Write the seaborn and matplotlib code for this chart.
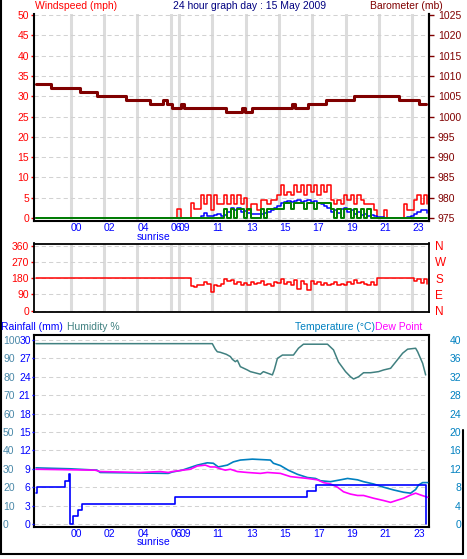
import numpy as np
import matplotlib
matplotlib.use('Agg')
import matplotlib.pyplot as plt
import matplotlib.transforms as mtransforms
from matplotlib.lines import Line2D
import seaborn as sns

sns.set_style('white')
plt.rcParams['font.family'] = ['Liberation Sans', 'DejaVu Sans']
plt.rcParams['font.size'] = 7.5

# ---------------- data ----------------
# x axis: graph hours (the 06 -> 09 data gap is compressed on the chart)
hour_ticks = [0, 2, 4, 6, 6.5, 8.5, 10.5, 12.5, 14.5, 16.5, 18.5, 20.5]
hour_labels = ['00', '02', '04', '06', '09', '11', '13', '15', '17', '19', '21', '23']
sunrise_pos = 4.95
x_range = (-2.2, 21.46)

wind_ticks = [0, 5, 10, 15, 20, 25, 30, 35, 40, 45, 50]
baro_ticks = [975, 980, 985, 990, 995, 1000, 1005, 1010, 1015, 1020, 1025]
dir_ticks = [0, 90, 180, 270, 360]
dir_labels = ['N', 'E', 'S', 'W', 'N']
hum_ticks = [0, 10, 20, 30, 40, 50, 60, 70, 80, 90, 100]
rain_ticks = [0, 3, 6, 9, 12, 15, 18, 21, 24, 27, 30]
temp_ticks = [0, 4, 8, 12, 16, 20, 24, 28, 32, 36, 40]

baro_t = [-2.08, -1.18, 0.56, 1.58, 3.32, 4.76, 5.54, 5.78, 6.08, 6.62, 6.80, 9.32,
          10.28, 10.46, 10.88, 13.28, 13.46, 14.24, 15.32, 17.0, 19.7, 20.9, 21.31]
baro_v = [1008, 1007, 1006, 1005, 1004, 1003, 1004, 1003, 1002, 1003, 1002, 1001,
          1002, 1001, 1002, 1003, 1002, 1003, 1004, 1005, 1004, 1003, 1003]

wind_first = -2.08
wind_start = 6.4
wind_step = 0.2
gust = [2.2, 0, 0, 0, 3.6, 2.2, 2.2, 5.6, 3.4, 5.6,
        2.0, 5.6, 3.4, 3.4, 5.6, 3.4, 5.6, 3.4, 5.6, 3.4,
        4.9, 2.0, 3.4, 3.4, 2.0, 4.4, 4.4, 3.4, 4.4, 4.4,
        5.6, 8.1, 5.6, 6.5, 5.6, 8.1, 6.5, 8.1, 5.6, 8.1,
        6.5, 8.1, 5.6, 8.1, 6.5, 8.1, 4.4, 3.4, 4.4, 3.4,
        5.6, 4.4, 5.6, 3.4, 5.6, 4.4, 3.4, 3.4, 3.4, 2.0,
        0, 0, 2.0, 0, 0, 0, 0, 0, 3.4, 2.0,
        2.0, 4.4, 5.6, 3.4, 5.6, 3.4]
avg = [0, 0, 0, 0, 0, 0, 0, 0.6, 1.2, 0.5,
       0.5, 0.8, 1.0, 0.5, 0.8, 1.5, 2.4, 2.0, 2.4, 1.5,
       1.8, 1.2, 1.0, 1.0, 1.0, 1.0, 1.2, 1.5, 2.0, 2.5,
       3.0, 3.8, 4.0, 4.2, 4.0, 4.2, 4.4, 4.0, 4.2, 4.4,
       4.0, 4.2, 3.8, 3.5, 3.0, 2.5, 1.5, 2.0, 1.2, 2.2,
       2.5, 1.5, 2.0, 1.0, 1.5, 0.8, 1.0, 0.5, 0.8, 0.5,
       0.3, 0.3, 0, 0, 0, 0, 0, 0, 0, 0.3,
       0.6, 1.0, 1.5, 2.0, 2.0, 1.2]
latest = [0, 0, 0, 0, 0, 0, 0, 0, 0, 0,
          0, 0, 0, 0, 2.1, 0, 2.1, 0, 2.1, 2.1,
          0, 2.1, 0, 0, 0, 2.1, 0, 2.1, 2.1, 2.1,
          2.1, 2.1, 3.6, 3.6, 2.1, 3.6, 3.6, 3.6, 2.1, 3.6,
          3.6, 2.1, 3.6, 3.6, 3.6, 3.6, 2.1, 0, 2.1, 0,
          2.1, 2.1, 0, 2.1, 0, 2.1, 0, 2.1, 0, 0,
          0, 0, 0, 0, 0, 0, 0, 0, 0, 0,
          0, 0, 0, 0, 0, 0]
wdir = [180, 180, 180, 180, 135, 130, 145, 140, 160, 150,
        105, 140, 135, 150, 175, 165, 170, 150, 160, 145,
        155, 140, 160, 150, 155, 165, 145, 150, 135, 160,
        155, 175, 150, 160, 145, 170, 120, 165, 150, 115,
        165, 150, 160, 140, 155, 145, 150, 160, 140, 150,
        145, 160, 150, 170, 155, 160, 150, 145, 160, 140,
        180, 180, 180, 180, 180, 180, 180, 180, 180, 180,
        180, 165, 175, 155, 175, 150]

hum_t = [-2.08, 8.48, 8.57, 8.66, 8.78, 8.96, 9.32, 9.56, 9.68, 9.86, 9.98, 10.16, 10.58,
         10.76, 11.36, 11.54, 11.78, 12.08, 12.20, 12.38, 12.68, 13.34, 13.64, 13.94, 15.38,
         15.74, 16.04, 16.46, 16.76, 16.94, 17.24, 17.54, 17.96, 18.44, 18.74, 19.16, 19.46,
         19.88, 20.18, 20.66, 20.78, 21.08, 21.26]
hum_v = [98, 98, 96.5, 95, 93.6, 93.3, 92.2, 91, 89.5, 88.2, 89, 85.5, 83.7,
         82.8, 81.4, 82.8, 82, 81, 84, 90, 91.8, 91.8, 95.5, 97.7, 97.7,
         94.6, 88, 82.8, 80, 78.8, 80, 82.2, 82.2, 82.8, 83.7, 84.6, 88,
         92.8, 95, 95.5, 93.6, 87.3, 81]

temp_t = [-2.08, -0.04, 1.58, 1.76, 5.84, 6.08, 6.68, 7.58, 8.18, 8.54, 8.84, 9.38, 9.74,
          10.16, 10.88, 11.96, 12.14, 12.56, 13.03, 13.58, 14.18, 14.66, 14.96, 15.56,
          16.16, 16.58, 17.18, 17.54, 18.14, 18.74, 19.34, 19.94, 20.36, 20.66, 20.84,
          21.08, 21.38]
temp_v = [12.2, 12.0, 11.7, 11.2, 11.0, 11.3, 11.7, 12.8, 13.3, 13.2, 12.4, 12.8, 13.5,
          13.9, 14.1, 13.9, 13.2, 12.7, 11.7, 10.8, 10.1, 9.9, 9.4, 9.2,
          9.6, 9.9, 9.6, 9.2, 8.7, 8.0, 7.4, 6.9, 6.7, 7.5, 8.5,
          9.0, 9.0]

dew_t = [-2.08, 1.46, 1.76, 4.16, 5.36, 5.84, 6.08, 7.16, 7.58, 8.06, 8.36, 8.66, 8.96,
         9.26, 9.56, 9.98, 10.58, 11.36, 11.78, 12.56, 13.16, 14.18, 14.78, 15.14, 15.56,
         15.98, 16.34, 16.76, 17.18, 17.54, 18.14, 18.74, 19.16, 19.58, 19.94, 20.36,
         20.66, 20.96, 21.38]
dew_v = [11.9, 11.7, 11.4, 11.2, 11.4, 11.2, 11.4, 11.9, 12.6, 12.8, 12.4, 12.4, 12.0,
         11.7, 11.9, 11.4, 11.2, 11.0, 11.2, 11.0, 10.3, 9.9, 9.6, 9.0, 8.7,
         8.0, 7.0, 6.5, 6.2, 6.2, 5.6, 5.1, 4.7, 5.2, 5.6, 6.3,
         6.7, 6.3, 5.8]

rain_t = [-2.08, -2.02, -0.34, -0.10, -0.04, 0.14, 0.44, 0.68, 6.26, 14.18, 14.72, 21.26, 21.31]
rain_v = [5.0, 6.0, 7.0, 8.2, 0.0, 1.3, 2.3, 3.3, 4.35, 5.4, 6.4, 0.0, 0.0]

# ---------------- colours ----------------
C_WIND = '#ff0000'
C_AVG = '#0000ff'
C_LATEST = '#008000'
C_BARO = '#800000'
C_TITLE = '#000080'
C_RAIN = '#0000ff'
C_HUM = '#408080'
C_HUMTICK = '#4a88a8'
C_TEMP = '#0080c0'
C_DEW = '#ff00ff'
C_VGRID = '#dcdcdc'
C_HGRID = '#d2d2d2'

W, H = 467, 559
fig = plt.figure(figsize=(W / 100, H / 100), dpi=100)
fig.patch.set_facecolor('white')

def px_box(left, top, right, bottom):
    return [left / W, (H - bottom) / H, (right - left) / W, (bottom - top) / H]

wind_t = [wind_first] + [wind_start + wind_step * i for i in range(len(gust))]

def hgrid(ax):
    ax.yaxis.grid(True, color=C_HGRID, linewidth=0.75, linestyle=(0, (4, 3)))

def vgrid(ax):
    ax.xaxis.grid(True, color=C_VGRID, linewidth=2.2, linestyle='-')

# ---------------- panel 1: wind speed + barometer ----------------
ax1 = fig.add_axes(px_box(34, 14, 428.5, 221))
ax1.set_axisbelow(True)
sns.lineplot(x=wind_t, y=[0] + gust, ax=ax1, color=C_WIND, linewidth=1.1,
             drawstyle='steps-post', errorbar=None)
sns.lineplot(x=wind_t, y=[0] + avg, ax=ax1, color=C_AVG, linewidth=1.1,
             drawstyle='steps-post', errorbar=None)
sns.lineplot(x=wind_t, y=[0] + latest, ax=ax1, color=C_LATEST, linewidth=1.4,
             drawstyle='steps-post', errorbar=None)
ax1.set_xlim(*x_range)
ax1.set_ylim(-0.74, 50.25)
ax1.set_yticks(wind_ticks)
ax1.set_xticks(hour_ticks)
ax1.set_xticklabels(hour_labels, ha='left')
ax1.tick_params(axis='x', length=0, pad=1.2, labelcolor='#0000ff', labelsize=7.5)
ax1.tick_params(axis='y', left=True, length=2.2, width=1, color=C_WIND, pad=1.4,
                labelcolor=C_WIND, labelsize=7.5)
vgrid(ax1)
hgrid(ax1)
ax1.set_xlabel('')
ax1.set_ylabel('')
for s in ['left', 'bottom', 'right']:
    ax1.spines[s].set_color('black')
    ax1.spines[s].set_linewidth(1.5)
ax1.spines['top'].set_visible(False)

ax1b = ax1.twinx()
sns.lineplot(x=baro_t, y=baro_v, ax=ax1b, color=C_BARO, linewidth=2.2,
             drawstyle='steps-post', errorbar=None)
ax1b.set_ylim(975 - 0.74, 975 + 50.25)
ax1b.set_yticks(baro_ticks)
ax1b.tick_params(axis='y', right=True, length=3.6, width=1, color=C_BARO, pad=3.2,
                 labelcolor=C_BARO, labelsize=7.5)
ax1b.set_ylabel('')
ax1b.spines['top'].set_visible(False)
ax1b.spines['right'].set_color('black')
ax1b.spines['right'].set_linewidth(1.5)
ax1b.spines['left'].set_visible(False)
ax1b.spines['bottom'].set_visible(False)

blend1 = mtransforms.blended_transform_factory(ax1.transData, ax1.transAxes)
ax1.text(sunrise_pos, -0.077, 'sunrise', transform=blend1, ha='center', va='center',
         color='#0000ff', fontsize=7.5)

# ---------------- panel 2: wind direction ----------------
ax2 = fig.add_axes(px_box(34, 243.5, 428.5, 312))
ax2.set_axisbelow(True)
sns.lineplot(x=wind_t, y=[180] + wdir, ax=ax2, color=C_WIND, linewidth=1.1,
             drawstyle='steps-post', errorbar=None)
ax2.set_xlim(*x_range)
ax2.set_ylim(-7.2, 372.1)
ax2.set_xticks(hour_ticks)
ax2.set_xticklabels([])
ax2.set_yticks(dir_ticks)
ax2.tick_params(axis='x', length=0)
ax2.tick_params(axis='y', left=True, length=2.2, width=1, color=C_WIND, pad=1.4,
                labelcolor=C_WIND, labelsize=7.5)
vgrid(ax2)
hgrid(ax2)
ax2.set_xlabel('')
ax2.set_ylabel('')
for s in ax2.spines.values():
    s.set_color('black')
    s.set_linewidth(1.3)
ax2b = ax2.twinx()
ax2b.set_ylim(-7.2, 372.1)
ax2b.set_yticks(dir_ticks)
ax2b.set_yticklabels(dir_labels)
ax2b.tick_params(axis='y', right=True, length=0, pad=5.0, labelcolor=C_WIND,
                 labelsize=8.5)
for s in ax2b.spines.values():
    s.set_visible(False)

# ---------------- panel 3: humidity / rain / temperature ----------------
ax3 = fig.add_axes(px_box(34, 335, 429, 527))
ax3.set_axisbelow(True)
sns.lineplot(x=hum_t, y=hum_v, ax=ax3, color=C_HUM, linewidth=1.1, errorbar=None)
ax3.set_xlim(*x_range)
ax3.set_ylim(-1.63, 102.7)
ax3.set_yticks(hum_ticks)
ax3.set_yticklabels([str(v) for v in hum_ticks], ha='left')
ax3.tick_params(axis='y', left=True, length=0, pad=22.3, labelcolor=C_HUMTICK,
                labelsize=7.5)
ax3.set_xticks(hour_ticks)
ax3.set_xticklabels(hour_labels, ha='left')
ax3.tick_params(axis='x', length=0, pad=1.2, labelcolor='#0000ff', labelsize=7.5)
hgrid(ax3)
ax3.xaxis.grid(False)
ax3.set_xlabel('')
ax3.set_ylabel('')
for s in ax3.spines.values():
    s.set_color('black')
    s.set_linewidth(1.5)

ax3r = ax3.twinx()
sns.lineplot(x=temp_t, y=temp_v, ax=ax3r, color=C_TEMP, linewidth=1.2, errorbar=None)
sns.lineplot(x=dew_t, y=dew_v, ax=ax3r, color=C_DEW, linewidth=1.2, errorbar=None)
ax3r.set_ylim(-1.63 * 0.4, 102.7 * 0.4)
ax3r.set_yticks(temp_ticks)
ax3r.set_yticklabels([str(v) for v in temp_ticks], ha='right')
ax3r.tick_params(axis='y', right=True, length=0, pad=23.0, labelcolor=C_TEMP,
                 labelsize=7.5)
ax3r.set_ylabel('')
for s in ax3r.spines.values():
    s.set_visible(False)

ax3c = ax3.twinx()
sns.lineplot(x=rain_t, y=rain_v, ax=ax3c, color=C_RAIN, linewidth=1.2,
             drawstyle='steps-post', errorbar=None)
ax3c.set_ylim(-1.63 * 0.3, 102.7 * 0.3)
ax3c.yaxis.tick_left()
ax3c.set_yticks(rain_ticks)
ax3c.tick_params(axis='y', left=True, right=False, length=1.2, width=1, color=C_RAIN,
                 pad=1.2, labelcolor=C_RAIN, labelsize=7.5)
ax3c.set_ylabel('')
for s in ax3c.spines.values():
    s.set_visible(False)

blend3 = mtransforms.blended_transform_factory(ax3.transData, ax3.transAxes)
ax3.text(sunrise_pos, -0.08, 'sunrise', transform=blend3, ha='center', va='center',
         color='#0000ff', fontsize=7.5)

# ---------------- header texts ----------------
def ftext(x, y, s, **kw):
    fig.text(x / W, 1 - y / H, s, va='center', fontsize=7.5, **kw)

ftext(35, 6, 'Windspeed (mph)', ha='left', color=C_WIND)
ftext(250, 6, '24 hour graph day : 15 May 2009', ha='center', color=C_TITLE)
ftext(443, 6, 'Barometer (mb)', ha='right', color=C_BARO)
ftext(1, 327.5, 'Rainfall (mm)', ha='left', color=C_RAIN)
ftext(67, 327.5, 'Humidity %', ha='left', color=C_HUM)
ftext(375, 327.5, 'Temperature (\u00b0C)', ha='right', color=C_TEMP)
ftext(375, 327.5, 'Dew Point', ha='left', color=C_DEW)

# outer frame
for xs, ys in [((0.8, 0.8), (0, 553.5)), ((0, 462.5), (553.5, 553.5)),
               ((462.5, 462.5), (430, 553.5))]:
    fig.add_artist(Line2D([x / W for x in xs], [1 - y / H for y in ys],
                          color='black', linewidth=1.5, transform=fig.transFigure))

fig.savefig('out.png', dpi=100, facecolor='white')
